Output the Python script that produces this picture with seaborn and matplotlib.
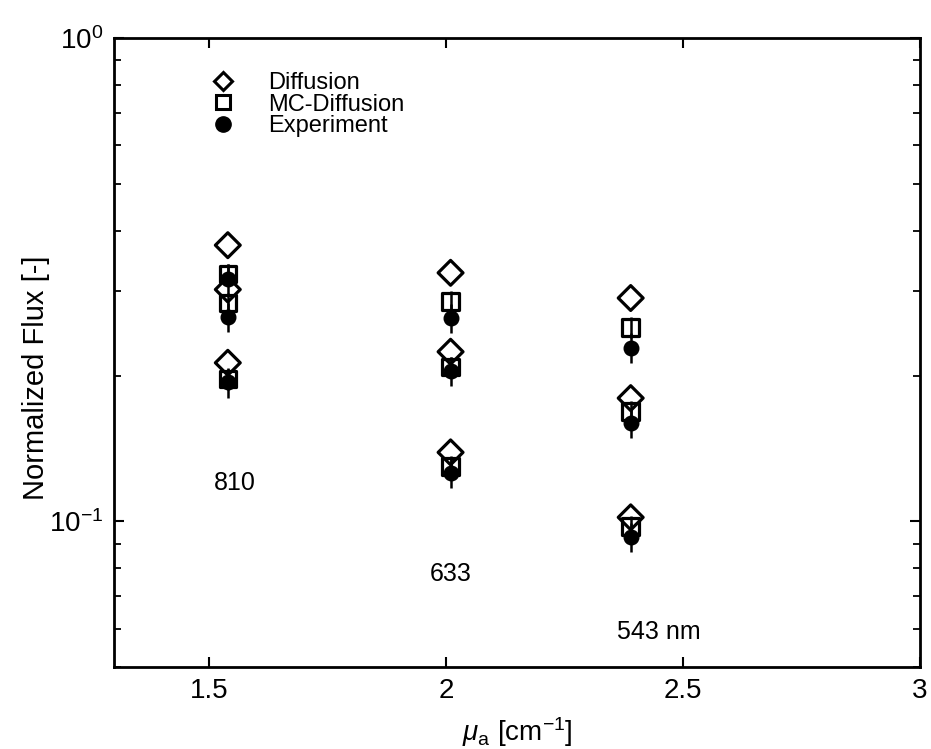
import numpy as np
import pandas as pd
import seaborn as sns
import matplotlib
matplotlib.use("Agg")
import matplotlib.pyplot as plt
from matplotlib.lines import Line2D
from matplotlib.ticker import LogLocator, NullFormatter, FixedLocator

# ---- data ----
wavelengths = ["810", "633", "543"]
mu_a = [1.54, 2.01, 2.39]
diffusion = [[0.373, 0.302, 0.213], [0.327, 0.2245, 0.139], [0.290, 0.180, 0.102]]
mc_diffusion = [[0.325, 0.283, 0.197], [0.285, 0.209, 0.130], [0.252, 0.169, 0.0976]]
experiment = [[0.318, 0.265, 0.194], [0.264, 0.205, 0.126], [0.229, 0.160, 0.093]]
mc_relerr = 0.05
exp_relerr = 0.07
label_text = ["810", "633", "543 nm"]
label_x = [1.555, 2.01, 2.45]
label_y = [0.120, 0.078, 0.059]

rows = []
for i, x in enumerate(mu_a):
    for j in range(3):
        rows.append(dict(mu=x, flux=diffusion[i][j], series="Diffusion"))
        rows.append(dict(mu=x, flux=mc_diffusion[i][j], series="MC-Diffusion"))
        rows.append(dict(mu=x, flux=experiment[i][j], series="Experiment"))
df = pd.DataFrame(rows)

sns.set_theme(style="ticks")
plt.rcParams['font.family'] = ['Liberation Sans', 'DejaVu Sans']
plt.rcParams['mathtext.fontset'] = 'custom'
plt.rcParams['mathtext.rm'] = 'Liberation Sans'
plt.rcParams['mathtext.it'] = 'Liberation Sans:italic'
for k in ['text.color', 'axes.labelcolor', 'xtick.color', 'ytick.color', 'axes.edgecolor']:
    plt.rcParams[k] = 'black'

fig = plt.figure(figsize=(9.31, 7.49), dpi=100)
ax = fig.add_axes([0.1225, 0.1095, 0.8655, 0.8395])

# error bars
for s, err in [("MC-Diffusion", mc_relerr), ("Experiment", exp_relerr)]:
    d = df[df.series == s]
    ax.errorbar(d.mu, d.flux, yerr=d.flux * err, fmt="none", ecolor="black",
                elinewidth=1.8, capsize=0, zorder=2)

d = df[df.series == "Diffusion"]
sns.scatterplot(data=d, x="mu", y="flux", marker="D", s=160, facecolors="none",
                edgecolor="black", linewidth=2.3, ax=ax, zorder=3)
d = df[df.series == "MC-Diffusion"]
sns.scatterplot(data=d, x="mu", y="flux", marker="s", s=140, facecolors="none",
                edgecolor="black", linewidth=2.3, ax=ax, zorder=3)
d = df[df.series == "Experiment"]
sns.scatterplot(data=d, x="mu", y="flux", marker="o", s=110, color="black",
                edgecolor="black", linewidth=1, ax=ax, zorder=4)

ax.set_yscale("log")
ax.set_xlim(1.3, 3.0)
ax.set_ylim(0.05, 1.0)
ax.set_xticks([1.5, 2.0, 2.5, 3.0])
ax.set_xticklabels(["1.5", "2", "2.5", "3"])
ax.yaxis.set_major_locator(FixedLocator([0.1, 1.0]))
ax.set_yticklabels(["$10^{-1}$", "$10^{0}$"])
ax.yaxis.set_minor_locator(LogLocator(base=10, subs=np.arange(2, 10)))
ax.yaxis.set_minor_formatter(NullFormatter())

ax.tick_params(axis="both", which="major", direction="in", length=7, width=1.5,
               labelsize=20, top=True, right=True, pad=8)
ax.tick_params(axis="y", which="minor", direction="in", length=5, width=1.3,
               right=True, left=True)
for sp in ax.spines.values():
    sp.set_linewidth(2)
    sp.set_color("black")

ax.set_xlabel("$\\mathit{\\mu}_{\\mathrm{a}}$ [cm$^{-1}$]", fontsize=20, labelpad=8)
ax.set_ylabel("Normalized Flux [-]", fontsize=21)
ax.yaxis.set_label_coords(-0.08, 0.46)

for t, x, y in zip(label_text, label_x, label_y):
    ax.text(x, y, t, fontsize=18, ha="center", va="center")

handles = [
    Line2D([], [], marker="D", ls="none", mfc="none", mec="black", mew=2.2, ms=9),
    Line2D([], [], marker="s", ls="none", mfc="none", mec="black", mew=2.2, ms=10),
    Line2D([], [], marker="o", ls="none", mfc="black", mec="black", ms=11),
]
ax.legend(handles, ["Diffusion", "MC-Diffusion", "Experiment"], loc="upper left",
          bbox_to_anchor=(0.08, 0.98), frameon=False, fontsize=17,
          handletextpad=0.9, labelspacing=-0.02)

fig.savefig("out.png", dpi=100)
